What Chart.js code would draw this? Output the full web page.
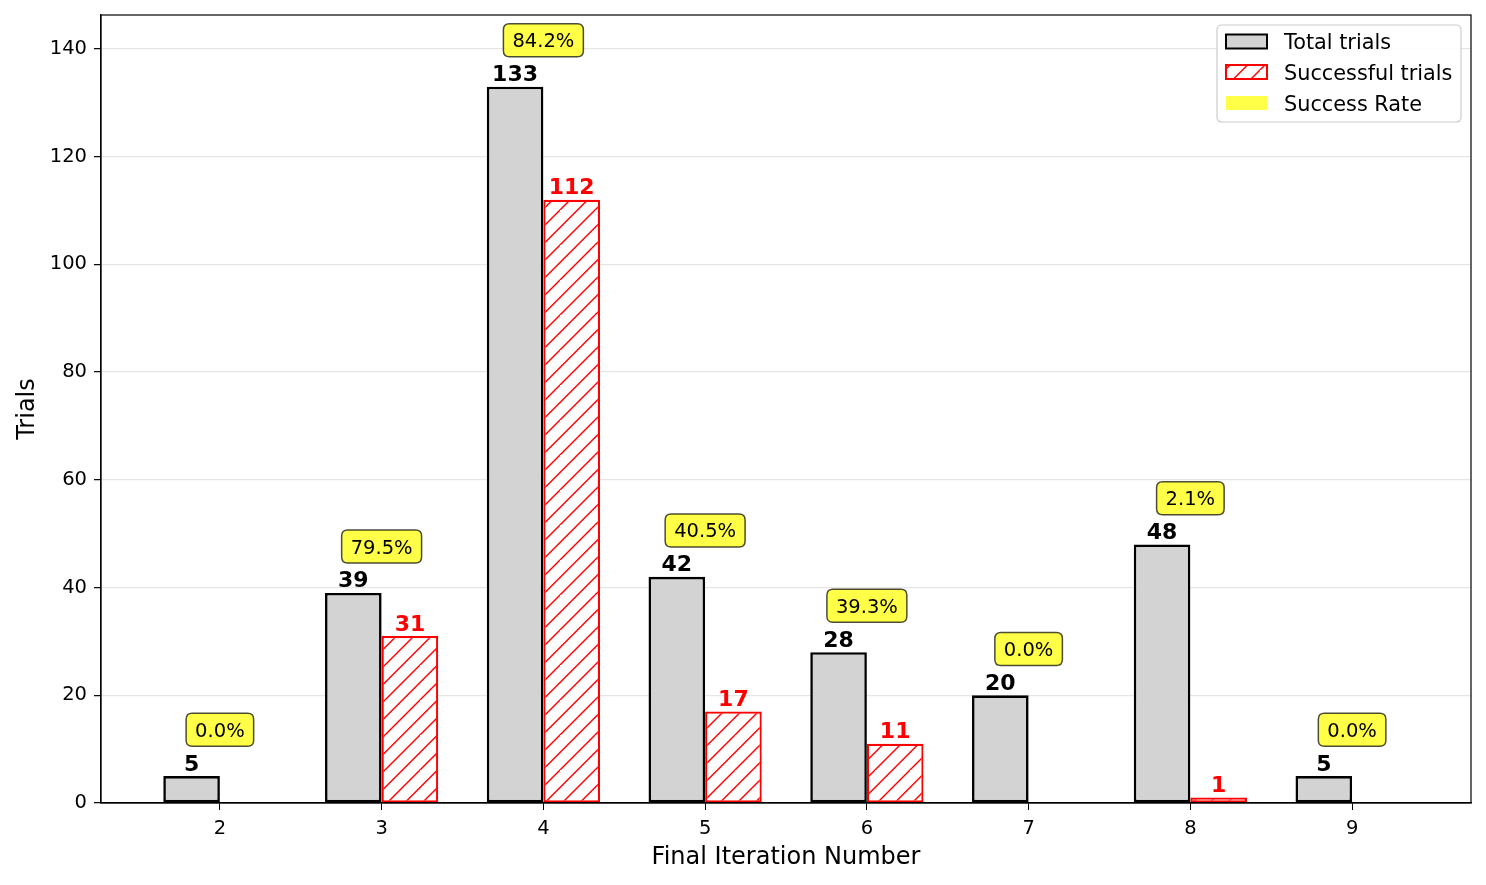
<!DOCTYPE html>
<html>
<head>
<meta charset="utf-8">
<script src="https://cdn.jsdelivr.net/npm/chart.js@4.4.1/dist/chart.umd.min.js"></script>
<style>
  body { margin: 0; background: #fff; }
  canvas { display: block; }
</style>
</head>
<body>
<canvas id="trialsChart" width="1486" height="885"></canvas>
<script>
// data
const iterations = [2, 3, 4, 5, 6, 7, 8, 9];
const totalTrials = [5, 39, 133, 42, 28, 20, 48, 5];
const successTrials = [0, 31, 112, 17, 11, 0, 1, 0];
const yTicks = [0, 20, 40, 60, 80, 100, 120, 140];

const FONT = 'DejaVu Sans';

// red "///" hatch on white
function makeHatch() {
  const T = 35;
  const c = document.createElement('canvas');
  c.width = T; c.height = T;
  const g = c.getContext('2d');
  g.fillStyle = '#ffffff';
  g.fillRect(0, 0, T, T);
  g.strokeStyle = 'red';
  g.lineWidth = 1.4;
  for (let k = -1; k <= 2; k++) {
    const off = k * T / 2;
    g.beginPath();
    g.moveTo(off - T / 2, T + T / 2);
    g.lineTo(off + T + T / 2, -T / 2);
    g.stroke();
  }
  return g.createPattern(c, 'repeat');
}
const hatch = makeHatch();

function roundRect(ctx, x, y, w, h, r) {
  ctx.beginPath();
  ctx.moveTo(x + r, y);
  ctx.lineTo(x + w - r, y);
  ctx.quadraticCurveTo(x + w, y, x + w, y + r);
  ctx.lineTo(x + w, y + h - r);
  ctx.quadraticCurveTo(x + w, y + h, x + w - r, y + h);
  ctx.lineTo(x + r, y + h);
  ctx.quadraticCurveTo(x, y + h, x, y + h - r);
  ctx.lineTo(x, y + r);
  ctx.quadraticCurveTo(x, y, x + r, y);
  ctx.closePath();
}

// value labels, success-rate boxes, frame and legend
const annotate = {
  id: 'annotate',
  afterDatasetsDraw(chart) {
    const ctx = chart.ctx;
    const area = chart.chartArea;
    const xs = chart.scales.x, ys = chart.scales.y;

    ctx.save();
    ctx.textAlign = 'center';
    ctx.textBaseline = 'alphabetic';
    ctx.font = 'bold 22px "' + FONT + '"';
    chart.data.datasets.forEach((ds, di) => {
      const meta = chart.getDatasetMeta(di);
      meta.data.forEach((el, i) => {
        const v = ds.data[i].y;
        if (v <= 0) return;
        ctx.fillStyle = di === 0 ? '#000' : 'red';
        ctx.fillText(String(v), el.x, el.y - 5.5);
      });
    });

    // success rate boxes
    ctx.font = '19.5px "' + FONT + '"';
    iterations.forEach((it, i) => {
      const rate = totalTrials[i] ? successTrials[i] / totalTrials[i] * 100 : 0;
      const txt = rate.toFixed(1) + '%';
      const cx = xs.getPixelForValue(it);
      const cy = ys.getPixelForValue(totalTrials[i] + 8.6);
      const w = ctx.measureText(txt).width + 18;
      const h = 33;
      roundRect(ctx, cx - w / 2, cy - h / 2, w, h, 6);
      ctx.fillStyle = 'rgba(255,255,0,0.72)';
      ctx.fill();
      ctx.strokeStyle = 'rgba(0,0,0,0.7)';
      ctx.lineWidth = 1.5;
      ctx.stroke();
      ctx.fillStyle = '#000';
      ctx.fillText(txt, cx, cy + 7);
    });

    // axes frame
    ctx.strokeStyle = '#000';
    ctx.lineWidth = 1.2;
    ctx.strokeRect(area.left, area.top, area.right - area.left, area.bottom - area.top);

    // legend
    const lx = 1217, ly = 25, lw = 244, lh = 97;
    roundRect(ctx, lx, ly, lw, lh, 5);
    ctx.fillStyle = 'rgba(255,255,255,0.85)';
    ctx.fill();
    ctx.strokeStyle = '#cccccc';
    ctx.lineWidth = 1.2;
    ctx.stroke();
    const items = [
      { label: chart.data.datasets[0].label, fill: '#d3d3d3', edge: '#000' },
      { label: chart.data.datasets[1].label, fill: hatch, edge: 'red' },
      { label: 'Success Rate', fill: 'rgba(255,255,0,0.72)', edge: null }
    ];
    const rows = [41.5, 72, 103];
    ctx.textAlign = 'left';
    ctx.font = '20.8px "' + FONT + '"';
    items.forEach((it, k) => {
      const cy = rows[k];
      ctx.fillStyle = it.fill;
      ctx.fillRect(1226, cy - 7, 41, 14);
      if (it.edge) {
        ctx.strokeStyle = it.edge;
        ctx.lineWidth = 2;
        ctx.strokeRect(1226, cy - 7, 41, 14);
      }
      ctx.fillStyle = '#000';
      ctx.fillText(it.label, 1284, cy + 7.5);
    });
    ctx.restore();
  }
};

const ctxEl = document.getElementById('trialsChart');
const trialsChart = new Chart(ctxEl, {
  type: 'bar',
  data: {
    datasets: [
      {
        label: 'Total trials',
        data: iterations.map((x, i) => ({ x: x, y: totalTrials[i] })),
        backgroundColor: '#d3d3d3',
        borderColor: '#000',
        borderWidth: 2.6,
        borderSkipped: false
      },
      {
        label: 'Successful trials',
        data: iterations.map((x, i) => ({ x: x, y: successTrials[i] })),
        backgroundColor: hatch,
        borderColor: 'red',
        borderWidth: 2.2,
        borderSkipped: false
      }
    ]
  },
  options: {
    responsive: false,
    animation: false,
    layout: { padding: { top: 15, right: 15, left: 0, bottom: 0 } },
    datasets: {
      bar: { categoryPercentage: 0.7, barPercentage: 1.0 }
    },
    scales: {
      x: {
        type: 'linear',
        min: 1.265,
        max: 9.735,
        offset: false,
        afterBuildTicks(scale) { scale.ticks = iterations.map(v => ({ value: v })); },
        afterFit(scale) { scale.height = 82; scale.paddingLeft = 0; scale.paddingRight = 0; },
        grid: { display: true, drawOnChartArea: false, drawTicks: true, tickLength: 7, tickColor: '#000', offset: false },
        border: { display: true, color: '#000', width: 1.2 },
        ticks: {
          padding: 7,
          color: '#000',
          font: { family: FONT, size: 19.5 },
          callback: v => String(v)
        },
        title: {
          display: true,
          text: 'Final Iteration Number',
          color: '#000',
          font: { family: FONT, size: 24 },
          padding: { top: 0, bottom: 13 }
        }
      },
      y: {
        min: 0,
        max: 146.3,
        afterBuildTicks(scale) { scale.ticks = yTicks.map(v => ({ value: v })); },
        afterFit(scale) { scale.width = 101; scale.paddingTop = 0; scale.paddingBottom = 0; },
        grid: { color: '#e6e6e6', lineWidth: 1.3, tickLength: 7, tickColor: '#000', tickWidth: 1.2 },
        border: { display: true, color: '#000', width: 1.2 },
        ticks: {
          padding: 7,
          color: '#000',
          font: { family: FONT, size: 19.5 }
        },
        title: {
          display: true,
          text: 'Trials',
          color: '#000',
          font: { family: FONT, size: 24 },
          padding: { top: 13.5, bottom: 0 }
        }
      }
    },
    plugins: {
      legend: { display: false },
      tooltip: { enabled: false }
    }
  },
  plugins: [annotate]
});
</script>
</body>
</html>
